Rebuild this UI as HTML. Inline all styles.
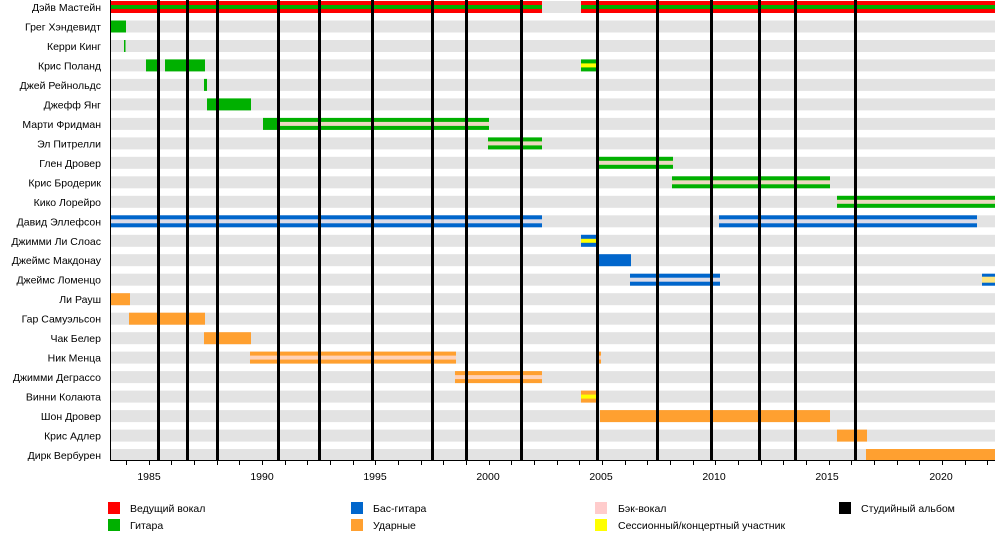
<!DOCTYPE html>
<html><head><meta charset="utf-8"><style>
html,body{margin:0;padding:0;background:#fff;}
svg{display:block;font-family:"Liberation Sans",Arial,sans-serif;font-size:10.5px;}
</style></head><body>
<svg width="1000" height="540" viewBox="0 0 1000 540" xmlns="http://www.w3.org/2000/svg">
<defs>
<g id="band"><rect x="111" y="0" width="884" height="12" fill="#e3e3e3"/></g>
</defs>
<!-- bands -->
<g>
<use href="#band" y="1"/><use href="#band" y="20.5"/><use href="#band" y="40"/><use href="#band" y="59.4"/>
<use href="#band" y="78.9"/><use href="#band" y="98.4"/><use href="#band" y="117.9"/><use href="#band" y="137.4"/>
<use href="#band" y="156.8"/><use href="#band" y="176.3"/><use href="#band" y="195.8"/><use href="#band" y="215.3"/>
<use href="#band" y="234.8"/><use href="#band" y="254.2"/><use href="#band" y="273.7"/><use href="#band" y="293.2"/>
<use href="#band" y="312.7"/><use href="#band" y="332.2"/><use href="#band" y="351.6"/><use href="#band" y="371.1"/>
<use href="#band" y="390.6"/><use href="#band" y="410.1"/><use href="#band" y="429.6"/><use href="#band" y="449"/>
</g>
<!-- bars -->
<g transform="translate(0,1)">
<rect x="111" y="0" width="431" height="12" fill="#ff0000"/><rect x="111" y="4" width="431" height="4" fill="#00b000"/>
<rect x="581" y="0" width="414" height="12" fill="#ff0000"/><rect x="581" y="4" width="414" height="4" fill="#00b000"/>
</g>
<g transform="translate(0,20.5)"><rect x="111" y="0" width="15" height="12" fill="#00b000"/></g>
<g transform="translate(0,40)"><rect x="124" y="0" width="1.5" height="12" fill="#00b000"/></g>
<g transform="translate(0,59.4)">
<rect x="146" y="0" width="14" height="12" fill="#00b000"/><rect x="165" y="0" width="40" height="12" fill="#00b000"/>
<rect x="581" y="0" width="17" height="12" fill="#00b000"/><rect x="581" y="4" width="17" height="4" fill="#ffff00"/>
</g>
<g transform="translate(0,78.9)"><rect x="204" y="0" width="3" height="12" fill="#00b000"/></g>
<g transform="translate(0,98.4)"><rect x="207" y="0" width="44" height="12" fill="#00b000"/></g>
<g transform="translate(0,117.9)">
<rect x="263" y="0" width="226" height="12" fill="#00b000"/><rect x="278" y="4" width="211" height="4" fill="#ecd8c0"/>
</g>
<g transform="translate(0,137.4)"><rect x="488" y="0" width="54" height="12" fill="#00b000"/><rect x="488" y="4" width="54" height="4" fill="#ecd8c0"/></g>
<g transform="translate(0,156.8)"><rect x="598" y="0" width="75" height="12" fill="#00b000"/><rect x="598" y="4" width="75" height="4" fill="#ecd8c0"/></g>
<g transform="translate(0,176.3)"><rect x="672" y="0" width="158" height="12" fill="#00b000"/><rect x="672" y="4" width="158" height="4" fill="#ecd8c0"/></g>
<g transform="translate(0,195.8)"><rect x="837" y="0" width="158" height="12" fill="#00b000"/><rect x="837" y="4" width="158" height="4" fill="#ecd8c0"/></g>
<g transform="translate(0,215.3)">
<rect x="111" y="0" width="431" height="12" fill="#0066cc"/><rect x="111" y="4" width="431" height="4" fill="#dcdce8"/>
<rect x="719" y="0" width="258" height="12" fill="#0066cc"/><rect x="719" y="4" width="258" height="4" fill="#dcdce8"/>
</g>
<g transform="translate(0,234.8)"><rect x="581" y="0" width="17" height="12" fill="#0066cc"/><rect x="581" y="4" width="17" height="4" fill="#ffff00"/></g>
<g transform="translate(0,254.2)"><rect x="598" y="0" width="33" height="12" fill="#0066cc"/></g>
<g transform="translate(0,273.7)">
<rect x="630" y="0" width="90" height="12" fill="#0066cc"/><rect x="630" y="4" width="90" height="4" fill="#dcdce8"/>
<rect x="982" y="0" width="13" height="12" fill="#0066cc"/><rect x="982" y="3" width="13" height="6" fill="#ffe680"/>
</g>
<g transform="translate(0,293.2)"><rect x="111" y="0" width="19" height="12" fill="#ffa030"/></g>
<g transform="translate(0,312.7)"><rect x="129" y="0" width="76" height="12" fill="#ffa030"/></g>
<g transform="translate(0,332.2)"><rect x="204" y="0" width="47" height="12" fill="#ffa030"/></g>
<g transform="translate(0,351.6)">
<rect x="250" y="0" width="206" height="12" fill="#ffa030"/><rect x="250" y="4" width="206" height="4" fill="#ffd2b8"/>
<rect x="598" y="0" width="3" height="12" fill="#ffa030"/><rect x="598" y="4" width="3" height="4" fill="#ffd2b8"/>
</g>
<g transform="translate(0,371.1)"><rect x="455" y="0" width="87" height="12" fill="#ffa030"/><rect x="455" y="4" width="87" height="4" fill="#ffd2b8"/></g>
<g transform="translate(0,390.6)"><rect x="581" y="0" width="17" height="12" fill="#ffa030"/><rect x="581" y="4" width="17" height="4" fill="#ffff00"/></g>
<g transform="translate(0,410.1)"><rect x="600" y="0" width="230" height="12" fill="#ffa030"/></g>
<g transform="translate(0,429.6)"><rect x="837" y="0" width="30" height="12" fill="#ffa030"/></g>
<g transform="translate(0,449)"><rect x="866" y="0" width="129" height="12" fill="#ffa030"/></g>
<!-- album lines -->
<g fill="#000">
<rect x="157" y="0" width="3" height="460"/><rect x="186" y="0" width="3" height="460"/>
<rect x="216" y="0" width="3" height="460"/><rect x="277" y="0" width="3" height="460"/>
<rect x="318" y="0" width="3" height="460"/><rect x="371" y="0" width="3" height="460"/>
<rect x="431" y="0" width="3" height="460"/><rect x="465" y="0" width="3" height="460"/>
<rect x="520" y="0" width="3" height="460"/><rect x="596" y="0" width="3" height="460"/>
<rect x="656" y="0" width="3" height="460"/><rect x="710" y="0" width="3" height="460"/>
<rect x="758" y="0" width="3" height="460"/><rect x="794" y="0" width="3" height="460"/>
<rect x="854" y="0" width="3" height="460"/>
</g>
<!-- axis -->
<rect x="110" y="0" width="1" height="461" fill="#000"/>
<rect x="110" y="460" width="885" height="1" fill="#000"/>
<g stroke="#000" stroke-width="1">
<path d="M126.5 461v4M149.5 461v4M171.5 461v4M194.5 461v4M217.5 461v4M239.5 461v4M262.5 461v4M285.5 461v4M307.5 461v4M330.5 461v4M353.5 461v4M375.5 461v4M398.5 461v4M421.5 461v4M443.5 461v4M466.5 461v4M489.5 461v4M511.5 461v4M534.5 461v4M557.5 461v4M579.5 461v4M602.5 461v4M625.5 461v4M647.5 461v4M670.5 461v4M693.5 461v4M715.5 461v4M738.5 461v4M761.5 461v4M783.5 461v4M806.5 461v4M829.5 461v4M851.5 461v4M874.5 461v4M897.5 461v4M919.5 461v4M942.5 461v4M965.5 461v4M987.5 461v4"/>
</g>
<g text-anchor="middle" fill="#000">
<text x="149" y="480">1985</text><text x="262" y="480">1990</text><text x="375" y="480">1995</text>
<text x="488" y="480">2000</text><text x="601" y="480">2005</text><text x="714" y="480">2010</text>
<text x="827" y="480">2015</text><text x="941" y="480">2020</text>
</g>
<!-- names -->
<g text-anchor="end" fill="#000">
<text x="101" y="11">Дэйв Мастейн</text>
<text x="101" y="30.5">Грег Хэндевидт</text>
<text x="101" y="50">Керри Кинг</text>
<text x="101" y="69.4">Крис Поланд</text>
<text x="101" y="88.9">Джей Рейнольдс</text>
<text x="101" y="108.4">Джефф Янг</text>
<text x="101" y="127.9">Марти Фридман</text>
<text x="101" y="147.4">Эл Питрелли</text>
<text x="101" y="166.8">Глен Дровер</text>
<text x="101" y="186.3">Крис Бродерик</text>
<text x="101" y="205.8">Кико Лорейро</text>
<text x="101" y="225.3">Давид Эллефсон</text>
<text x="101" y="244.8">Джимми Ли Слоас</text>
<text x="101" y="264.2">Джеймс Макдонау</text>
<text x="101" y="283.7">Джеймс Ломенцо</text>
<text x="101" y="303.2">Ли Рауш</text>
<text x="101" y="322.7">Гар Самуэльсон</text>
<text x="101" y="342.2">Чак Белер</text>
<text x="101" y="361.6">Ник Менца</text>
<text x="101" y="381.1">Джимми Деграссо</text>
<text x="101" y="400.6">Винни Колаюта</text>
<text x="101" y="420.1">Шон Дровер</text>
<text x="101" y="439.6">Крис Адлер</text>
<text x="101" y="459">Дирк Вербурен</text>
</g>
<!-- legend -->
<rect x="108" y="502" width="12" height="12" fill="#ff0000"/><text x="130" y="512">Ведущий вокал</text>
<rect x="108" y="519" width="12" height="12" fill="#00b000"/><text x="130" y="529">Гитара</text>
<rect x="351" y="502" width="12" height="12" fill="#0066cc"/><text x="373" y="512">Бас-гитара</text>
<rect x="351" y="519" width="12" height="12" fill="#ffa030"/><text x="373" y="529">Ударные</text>
<rect x="595" y="502" width="12" height="12" fill="#ffcccc"/><text x="618" y="512">Бэк-вокал</text>
<rect x="595" y="519" width="12" height="12" fill="#ffff00"/><text x="618" y="529">Сессионный/концертный участник</text>
<rect x="839" y="502" width="12" height="12" fill="#000"/><text x="861" y="512">Студийный альбом</text>
</svg>
</body></html>
